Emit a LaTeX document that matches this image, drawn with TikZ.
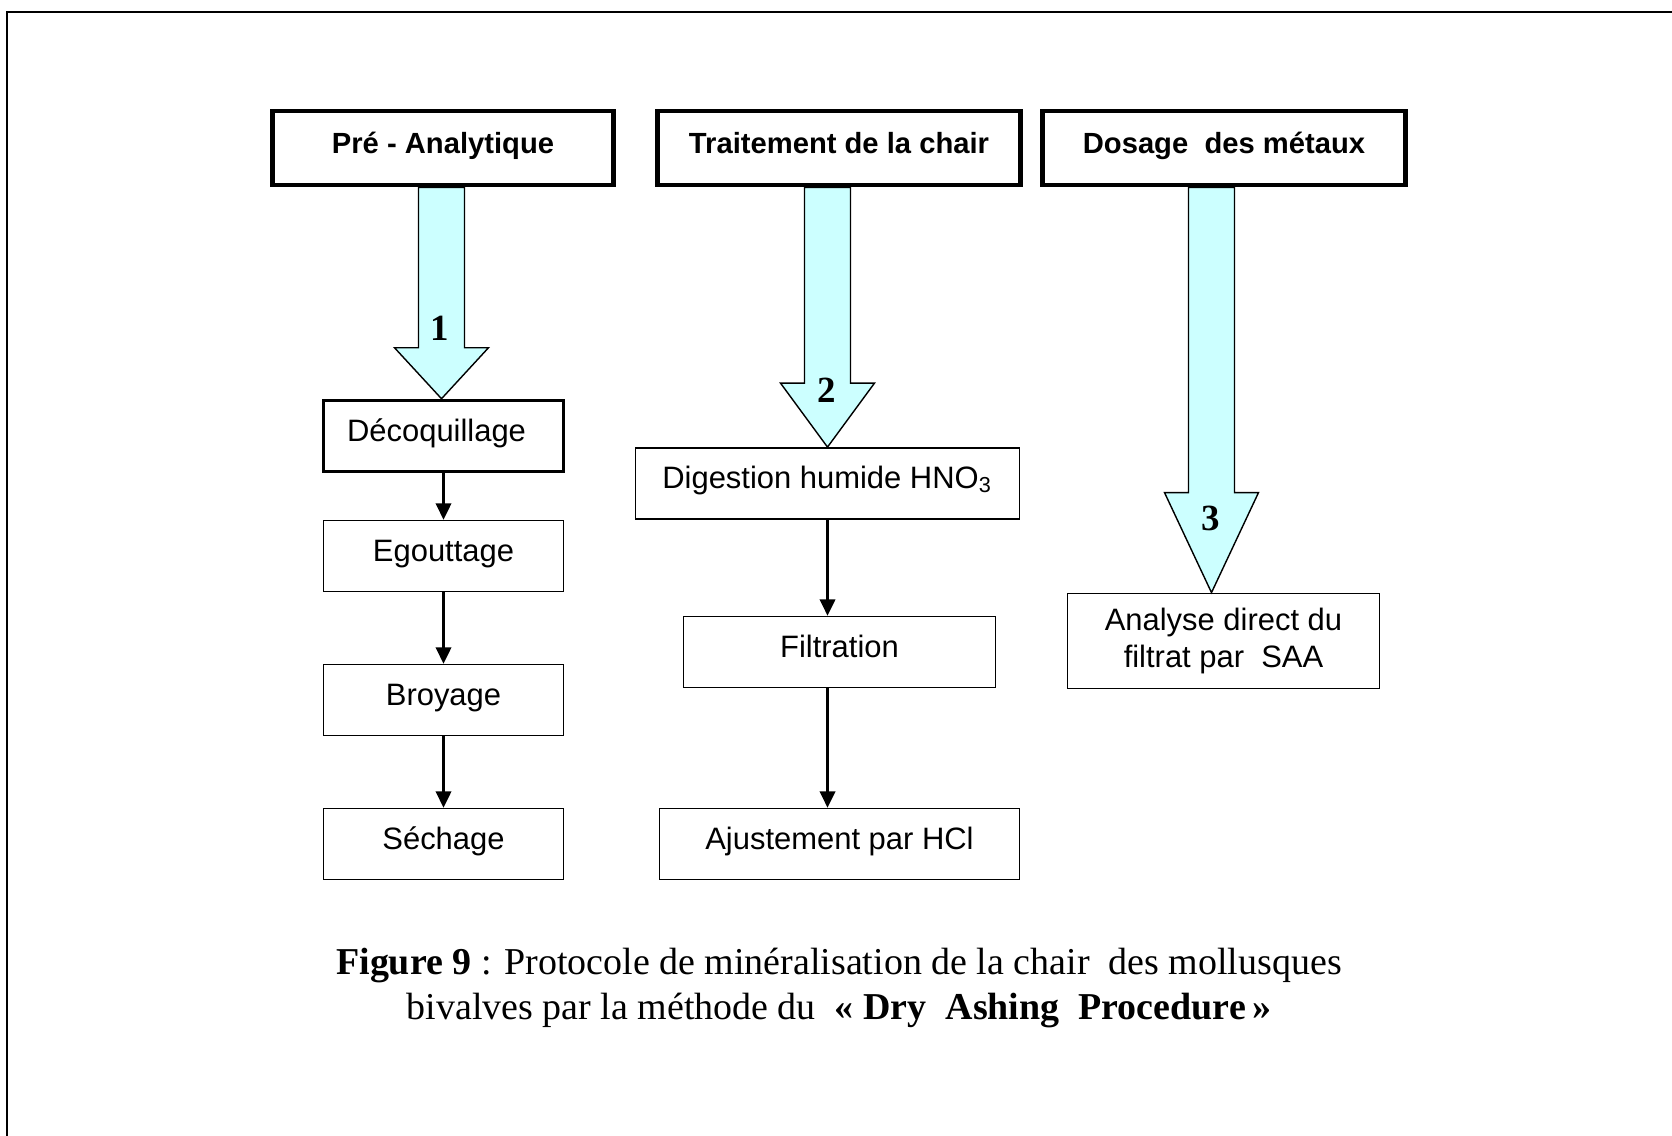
\documentclass[tikz,border=0pt]{standalone}
\usepackage{fontspec}
\setmainfont{Liberation Serif}
\setsansfont{Liberation Sans}
\usetikzlibrary{arrows.meta,calc}

\definecolor{cyanpale}{HTML}{CCFFFF}

\tikzset{
  titre/.style={draw, line width=1.4pt, minimum width=3.4cm, minimum height=0.74cm,
    text height=7pt, text depth=3.9pt,
    font=\sffamily\bfseries\fontsize{8.3}{10}\selectfont},
  etape/.style={draw, line width=0.5pt, minimum width=2.4cm, minimum height=0.71cm,
    text height=7.5pt, text depth=4.6pt,
    font=\sffamily\fontsize{8.8}{10.5}\selectfont},
  fleche/.style={draw, line width=0.6pt, -{Triangle[width=4.4pt,length=4.6pt]}},
  bloc/.style={draw, line width=0.4pt, fill=cyanpale},
  numero/.style={font=\bfseries\fontsize{10.5}{12}\selectfont}
}

% grosse fleche : #1 depart, #2 arrivee, #3 longueur de la pointe, #4 decalage en x
\newcommand{\grossefleche}[4]{
  \draw[bloc] ($(#2.north |- #1.south)+(#4-23,0)$) -- ($(#2.north)+(#4-23,-#3)$)
    -- ($(#2.north)+(#4-47,-#3)$) -- ($(#2.north)+(#4,0)$) -- ($(#2.north)+(#4+47,-#3)$)
    -- ($(#2.north)+(#4+23,-#3)$) -- ($(#2.north |- #1.south)+(#4+23,0)$) -- cycle;
}

\begin{document}
\begin{tikzpicture}[x=0.01cm, y=-0.01cm]

      \useasboundingbox (0,0) rectangle (1672,1136);
      \draw[line width=0.85pt] (7,1136) -- (7,12) -- (1672,12);

      \node[titre] (pre) at (443,148) {Pré - Analytique};
      \node[titre, minimum width=3.62cm] (trait) at (839,148) {Traitement de la chair};
      \node[titre, minimum width=3.62cm] (dosage) at (1224,148) {Dosage\ \ des métaux};

      \node[etape, line width=1pt] (decoq) at (443.5,436) {Décoquillage\kern0.45em};
      \node[etape] (egout) at (443.5,556) {Egouttage};
      \node[etape] (broy) at (443.5,700) {Broyage};
      \node[etape] (sech) at (443.5,844) {Séchage};

      \node[etape, minimum width=3.84cm] (dig) at (827.5,483.5) {Digestion humide HNO\textsubscript{3}};
      \node[etape, minimum width=3.12cm] (filt) at (839.5,652) {Filtration};
      \node[etape, minimum width=3.6cm] (ajust) at (839.5,844) {Ajustement par HCl};

      \node[etape, text height=, text depth=, minimum width=3.12cm, minimum height=0.95cm,
        align=center] (analyse) at (1223.5,641) {Analyse direct du\\filtrat par\ \ SAA};

      \grossefleche{pre}{decoq}{51}{-2}
      \grossefleche{trait}{dig}{64}{0}
      \grossefleche{dosage}{analyse}{100}{-12}

      \node[numero] (n1) at (440,328) {1};
      \node[numero] (n2) at (827,390) {2};
      \node[numero] (n3) at (1211,518) {3};

      \draw[fleche] (decoq) -- (egout);
      \draw[fleche] (egout) -- (broy);
      \draw[fleche] (broy) -- (sech);
      \draw[fleche] (dig.south) -- (dig.south |- filt.north);
      \draw[fleche] (dig.south |- filt.south) -- (dig.south |- ajust.north);

      \node[align=center, font=\fontsize{10.8}{12.6}\selectfont] (legende) at (839,988)
        {\textbf{Figure 9} : Protocole de minéralisation de la chair\ \ des mollusques\\
         bivalves par la méthode du\ \ \textbf{«\ Dry\ \ Ashing\ \ Procedure\,»}};
    \end{tikzpicture}
\end{document}
